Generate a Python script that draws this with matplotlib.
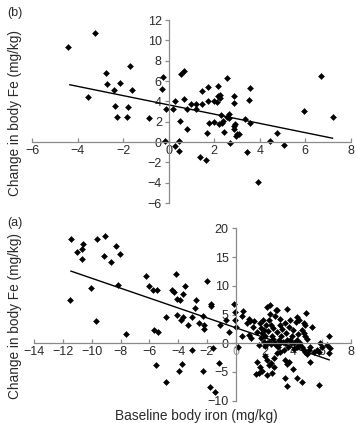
import matplotlib
matplotlib.use("Agg")
import matplotlib.pyplot as plt
import numpy as np

plt.rcParams['font.family'] = ['Liberation Sans', 'DejaVu Sans']

# ---- Panel (b) data ----
b_x = [-4.41, -3.24, -3.53, -2.74, -2.73, -2.41, -2.36, -2.29, -2.13, -1.72, -1.80, -1.82, -1.61,
       -0.86, -0.25, -0.29, -0.18, -0.10, 0.18, 0.29, 0.26, 0.44, 0.45, 0.48, 0.54, 0.69, 0.67,
       0.82, 0.82, 0.96, 1.21, 1.21, 1.37, 1.46, 1.47, 1.64, 1.69, 1.74, 1.71, 1.75, 2.01, 2.01,
       2.16, 2.16, 2.13, 2.19, 2.26, 2.25, 2.36, 2.31, 2.42, 2.39, 2.58, 2.57, 2.63, 2.63, 2.69,
       2.85, 2.85, 2.86, 2.88, 2.93, 2.95, 3.02, 3.09, 3.37, 3.45, 3.56, 3.55, 3.56, 3.91, 4.44,
       4.74, 5.07, 5.96, 6.69, 7.23]
b_y = [9.34, 10.75, 4.43, 6.79, 5.74, 5.15, 3.57, 2.43, 5.80, 7.48, 3.41, 2.46, 5.15,
       2.39, 6.43, 5.18, 0.10, 3.28, 3.28, 4.03, -0.39, 0.10, -0.85, 2.07, 6.72, 7.02, 4.23,
       1.25, 3.28, 3.70, 3.70, 3.21, -1.48, 3.70, 4.98, -1.74, 0.92, 5.38, 4.07, 1.90, 1.93, 4.03,
       5.54, 4.49, 3.97, 1.77, 4.62, 4.33, 1.84, 2.69, 0.95, 2.03, 6.33, 2.46, 2.72, 2.36, -0.07,
       4.52, 3.87, 1.57, 1.31, 1.80, 0.62, 0.82, 0.75, 2.30, -1.02, 5.28, 4.13, 1.87, -3.93, 0.07,
       0.85, -0.26, 3.08, 6.52, 2.49]
b_fit = [3.65, -0.455]        # intercept, slope
b_fit_x = [-4.35, 7.2]
b_xticks = [-6, -4, -2, 0, 2, 4, 6, 8]
b_yticks = [-6, -4, -2, 0, 2, 4, 6, 8, 10, 12]

# ---- Panel (a) data ----
a_x = [-11.42, -11.49, -11.02, -10.67, -10.60, -10.67, -10.09, -9.74, -9.61, -9.05, -9.14, -8.65,
       -8.31, -8.05, -8.19, -7.61,
       -6.26, -6.01, -5.75, -5.48, -5.66, -5.43, -5.55, -4.87, -4.83, -4.41, -4.13, -4.29, -4.11,
       -3.85, -3.67, -3.55, -4.06, -3.78, -3.64, -3.29, -3.04, -2.76, -2.81, -3.97, -3.71, -3.06,
       -2.30, -2.53, -2.30, -2.18, -2.18, -2.00, -1.69, -1.72, -1.60, -1.79, -1.42, -1.14, -1.09,
       -0.70, -0.44, -0.09, -0.02, -0.02, 0.05, 0.14, 0.53, 0.46, 0.46, 0.79, 0.95, 1.02, 0.90,
       1.07, 1.18, 1.30, 1.48, 1.51, 1.44, 1.60, 1.60,
       1.67, 1.76, 1.83, 1.90, 1.95, 2.06, 2.13, 2.18, 2.23, 2.32, 2.41, 2.46, 2.53, 2.60, 2.65,
       2.71, 2.78, 2.88, 2.92, 2.99, 3.06, 3.11, 3.18, 3.25, 3.29, 3.34, 3.41, 3.48, 3.57, 3.64,
       3.71, 3.81, 3.85, 3.92, 3.99, 4.08, 4.18, 4.25, 4.32, 4.41, 2.18, 2.30, 2.46, 2.60, 2.78,
       3.11, 3.46, 1.95, 1.79, 2.06,
       1.72, 1.83, 2.06, 2.18, 2.30, 2.46, 2.55, 2.65, 2.69, 2.88, 3.06, 3.46, 3.57, 3.69, 3.99,
       3.46, 3.57, 4.27, 4.62, 5.78, 2.18,
       4.27, 4.39, 4.92, 4.73, 4.85, 5.31, 4.62, 4.73, 4.85, 4.97, 6.47, 6.36, 6.54, 6.47, 6.01,
       5.89, 5.20, 5.43, 5.15, 5.66, 5.78, 4.50, 4.62, 4.73, 4.85, 4.97, 5.08, 3.81, 4.04, 4.27,
       2.41, 2.88, 3.57]
a_y = [18.1, 7.54, 15.96, 16.4, 17.3, 14.7, 9.6, 3.9, 18.2, 18.6, 15.2, 14.1,
       16.9, 15.6, 10.2, 1.6,
       11.7, 10.0, 9.3, 9.3, 2.26, 1.9, -3.8, 4.6, -6.8, 9.3, 12.1, 8.9, 7.7,
       7.5, 8.6, 9.9, 4.9, 4.1, 4.5, 3.2, 4.5, 7.5, 6.2, -4.8, -3.6, -1.2,
       -4.8, 3.5, 4.8, 2.5, 3.25, 10.9, 6.4, 6.8, -0.9, -7.7, -8.4, -3.5, 3.1,
       4.1, 1.9, 6.8, 5.5, 4.1, 2.9, -0.6, 5.6, 4.8, 1.3, 3.6, 4.2, 3.9, 1.5,
       0.9, 2.9, 3.8, 2.0, -3.2, -5.3, -5.1, -0.35,
       3.5, 2.6, 1.7, 4.1, 2.3, 1.2, 3.2, 6.3, 2.2, 4.1, 5.1, 3.2, 1.3, 2.6, 0.1,
       4.8, 5.8, 2.0, -0.6, 0.6, 3.2, 4.2, 1.2, 2.5, 0.2, -1.2, 3.6, 1.7, 0.6, -0.6,
       2.8, 4.1, 0.0, 1.3, 2.3, -1.0, 3.7, 0.5, 1.6, -0.3, 0.0, 0.3, -0.1, 0.7, -0.3,
       0.0, 0.1, 0.3, 0.9, -0.5,
       -4.1, -4.9, -2.3, -3.0, -3.8, -3.5, -5.2, -4.1, -2.6, -1.7, -1.5, -2.9, -3.6, -3.2, -4.4,
       -6.1, -7.5, -6.1, -6.7, -7.3, -5.5,
       4.6, 4.1, 5.3, 3.5, 3.1, 2.8, 2.3, 1.7, 1.3, 0.8, 1.2, -0.3, -0.9, -1.7, -0.6,
       0.0, -0.6, -1.6, -3.2, -1.2, -1.5, 0.0, -0.7, -1.2, -1.5, -1.9, -1.2, 0.6, 0.0, -0.6,
       6.7, 5.8, 6.0]
a_fit = [2.7, -0.86]
a_fit_x = [-11.45, 6.5]
a_xticks = [-14, -12, -10, -8, -6, -4, -2, 0, 2, 4, 6, 8]
a_yticks = [-10, -5, 0, 5, 10, 15, 20]

ylabel = "Change in body Fe (mg/kg)"
xlabel = "Baseline body iron (mg/kg)"

W, H = 356, 423
fig = plt.figure(figsize=(W / 100, H / 100), dpi=100)

axis_col = '#8a8a8a'
text_col = '#2a2a2a'
fs = 9
lfs = 9.8


def style(ax, xlim, ylim, xticks, yticks):
    ax.set_xlim(*xlim)
    ax.set_ylim(*ylim)
    for s in ['top', 'right']:
        ax.spines[s].set_visible(False)
    ax.spines['left'].set_position(('data', 0))
    ax.spines['bottom'].set_position(('data', 0))
    for s in ['left', 'bottom']:
        ax.spines[s].set_color(axis_col)
        ax.spines[s].set_linewidth(0.9)
    ax.set_xticks(xticks)
    ax.set_yticks(yticks)
    ax.set_xticklabels([str(t).replace('-', '\u2212') for t in xticks])
    ax.set_yticklabels([str(t).replace('-', '\u2212') for t in yticks])
    ax.tick_params(axis='x', direction='in', length=3, width=0.9, color=axis_col,
                   labelsize=fs, labelcolor=text_col, pad=2)
    ax.tick_params(axis='y', direction='out', length=3, width=0.9, color=axis_col,
                   labelsize=fs, labelcolor=text_col, pad=2)
    ax.patch.set_visible(False)


# Panel (b)
axb = fig.add_axes([32.3 / W, 1 - 203 / H, 318.4 / W, 183 / H])
style(axb, (-6, 8), (-6, 12), b_xticks, b_yticks)
axb.plot(b_x, b_y, linestyle='none', marker='D', ms=3.0, color='black', mew=0.4, clip_on=False)
xs = np.array(b_fit_x)
axb.plot(xs, b_fit[0] + b_fit[1] * xs, color='black', lw=1.0)

# Panel (a)
axa = fig.add_axes([34.3 / W, 1 - 400.7 / H, 316.4 / W, 172.4 / H])
style(axa, (-14, 8), (-10, 20), a_xticks, a_yticks)
axa.plot(a_x, a_y, linestyle='none', marker='D', ms=3.0, color='black', mew=0.4, clip_on=False)
xs = np.array(a_fit_x)
axa.plot(xs, a_fit[0] + a_fit[1] * xs, color='black', lw=1.0)
for lbl, t in zip(axa.get_xticklabels(), a_xticks):
    if t == 0:
        lbl.set_color('#9a9a9a')

# Labels
fig.text(15 / W, 1 - 113 / H, ylabel, rotation=90, ha='center', va='center',
         fontsize=lfs, color=text_col)
fig.text(15 / W, 1 - 316 / H, ylabel, rotation=90, ha='center', va='center',
         fontsize=lfs, color=text_col)
fig.text(196 / W, 1 - 415.5 / H, xlabel, ha='center', va='center', fontsize=lfs, color=text_col)
fig.text(7 / W, 1 - 13 / H, "(b)", ha='left', va='center', fontsize=fs, color=text_col)
fig.text(7 / W, 1 - 223 / H, "(a)", ha='left', va='center', fontsize=fs, color=text_col)

fig.savefig("out.png", dpi=100)
